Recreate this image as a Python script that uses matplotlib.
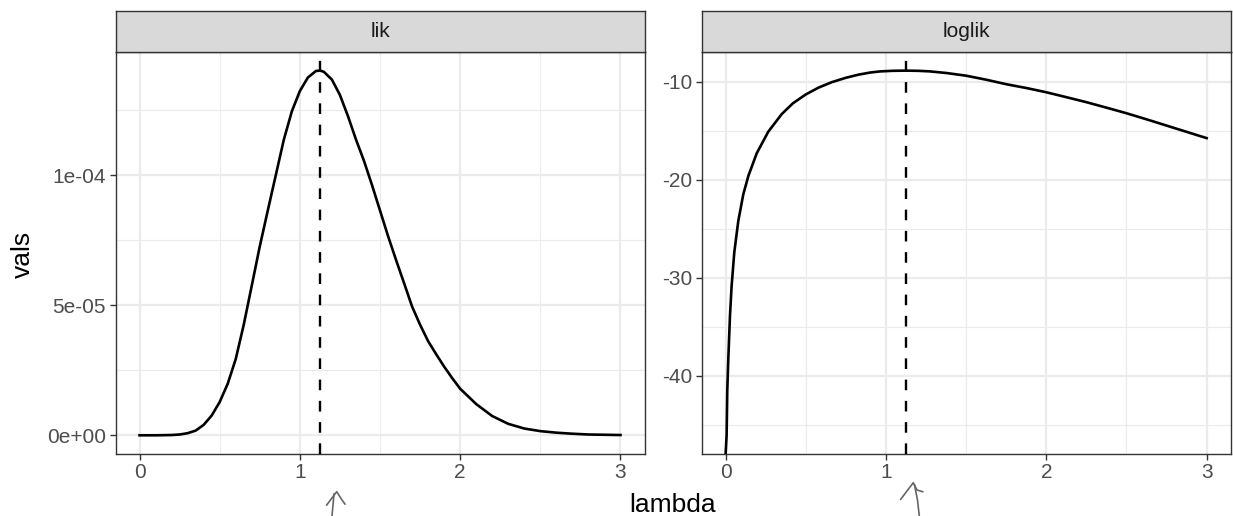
import numpy as np
import matplotlib
matplotlib.use("Agg")
import matplotlib.pyplot as plt
from matplotlib.lines import Line2D

plt.rcParams['font.family'] = ['Liberation Sans', 'DejaVu Sans']

# likelihood curve (values in units of 1e-5)
lam_lik = [0, 0.1, 0.2, 0.25, 0.3, 0.35, 0.4, 0.45, 0.5, 0.55, 0.6, 0.65,
           0.7, 0.75, 0.8, 0.85, 0.9, 0.95, 1.0, 1.05, 1.1, 1.125, 1.15, 1.2,
           1.25, 1.3, 1.35, 1.4, 1.45, 1.5, 1.55, 1.6, 1.65, 1.7, 1.75, 1.8,
           1.85, 1.9, 1.95, 2.0, 2.1, 2.2, 2.3, 2.4, 2.5, 2.6, 2.7, 2.8,
           2.9, 3.0]
lik = [0, 0, 0.01, 0.03, 0.08, 0.18, 0.40, 0.76, 1.28, 1.98, 2.93, 4.25,
       5.75, 7.26, 8.64, 10.0, 11.36, 12.45, 13.23, 13.75, 14.0, 14.02, 13.97, 13.67,
       13.08, 12.27, 11.37, 10.55, 9.62, 8.64, 7.66, 6.74, 5.85, 4.95, 4.25, 3.62,
       3.12, 2.64, 2.20, 1.79, 1.20, 0.74, 0.44, 0.26, 0.16, 0.10, 0.06, 0.03,
       0.02, 0.01]

# log-likelihood curve (at lambda = 0 it is -Inf)
lam_ll = [0, 0.006, 0.01, 0.0165, 0.027, 0.037, 0.054, 0.079, 0.11, 0.142,
          0.194, 0.266, 0.35, 0.42, 0.5, 0.58, 0.662, 0.75, 0.829, 0.9,
          0.964, 1.04, 1.12, 1.2, 1.276, 1.38, 1.5, 1.62, 1.754, 1.88,
          2.0, 2.125, 2.252, 2.375, 2.5, 2.625, 2.75, 2.875, 3.0]
loglik = [-np.inf, -46.1, -41.6, -38.3, -33.9, -30.9, -27.4, -24.2, -21.5, -19.6,
          -17.3, -15.1, -13.3, -12.2, -11.3, -10.6, -10.05, -9.6, -9.28, -9.07,
          -8.95, -8.89, -8.87, -8.89, -8.95, -9.12, -9.39, -9.78, -10.27, -10.66,
          -11.08, -11.58, -12.10, -12.65, -13.22, -13.84, -14.48, -15.12, -15.76]

mle = 1.125

W, H = 1233, 516
fig = plt.figure(figsize=(W / 100, H / 100), dpi=100)

grid_col = '#EBEBEB'
edge_col = '#333333'


def px(x0, x1, y0, y1):
    return [x0 / W, 1 - y1 / H, (x1 - x0) / W, (y1 - y0) / H]


def panel(rect, strip_rect, title, x, y, ylim, yticks, ylabels, yminor):
    ax = fig.add_axes(rect)
    ax.set_xlim(-0.15, 3.15)
    ax.set_ylim(*ylim)
    for v in [0.5, 1.5, 2.5]:
        ax.axvline(v, color=grid_col, lw=0.8, zorder=0)
    for v in yminor:
        ax.axhline(v, color=grid_col, lw=0.8, zorder=0)
    for v in [0, 1, 2, 3]:
        ax.axvline(v, color=grid_col, lw=1.6, zorder=0)
    for v in yticks:
        ax.axhline(v, color=grid_col, lw=1.6, zorder=0)
    ax.plot(x, np.clip(y, ylim[0], None), color='black', lw=1.9, zorder=3,
            solid_joinstyle='round')
    ax.axvline(mle, color='black', lw=1.7, ls=(0, (4.5, 4.5)), zorder=4)
    ax.set_xticks([0, 1, 2, 3])
    ax.set_xticklabels(['0', '1', '2', '3'])
    ax.set_yticks(yticks)
    ax.set_yticklabels(ylabels)
    ax.tick_params(colors=edge_col, labelcolor='#4D4D4D', labelsize=15,
                   length=4, width=1, pad=3)
    for s in ax.spines.values():
        s.set_color(edge_col)
        s.set_linewidth(1.0)
    sax = fig.add_axes(strip_rect)
    sax.set_xticks([])
    sax.set_yticks([])
    sax.set_facecolor('#D9D9D9')
    for s in sax.spines.values():
        s.set_color(edge_col)
        s.set_linewidth(1.0)
    sax.text(0.5, 0.5, title, ha='center', va='center', fontsize=15,
             color='#1A1A1A', transform=sax.transAxes)
    return ax


panel(px(115.5, 644.5, 52.3, 453.5), px(115.5, 644.5, 11, 52.3), 'lik',
      lam_lik, np.array(lik) * 1e-5, (-7.0e-6, 1.472e-4),
      [0, 5e-5, 1e-4], ['0e+00', '5e-05', '1e-04'], [2.5e-5, 7.5e-5, 1.25e-4])

panel(px(701.6, 1230.7, 52.3, 453.5), px(701.6, 1230.7, 11, 52.3), 'loglik',
      lam_ll, np.array(loglik), (-47.95, -7.0),
      [-40, -30, -20, -10], ['-40', '-30', '-20', '-10'], [-45, -35, -25, -15])

fig.text(673 / W, 1 - 512 / H, 'lambda', ha='center', va='baseline', fontsize=19)
fig.text(23 / W, 1 - 254.5 / H, 'vals', ha='center', va='center', rotation=90,
         fontsize=19)


# hand-drawn arrows under the x axis
def scribble(xs, ys):
    fig.add_artist(Line2D([a / W for a in xs], [1 - b / H for b in ys],
                          color='#666666', lw=1.2, transform=fig.transFigure))


scribble([326.7, 336.7, 342, 345], [505, 491.7, 500, 504])
scribble([334, 333, 332], [494, 505, 516])
scribble([900.7, 913.3, 917, 922.7], [499.3, 482.7, 490, 491.7])
scribble([914.5, 917.5, 919.3], [485, 500, 516])

fig.savefig('out.png', dpi=100)
